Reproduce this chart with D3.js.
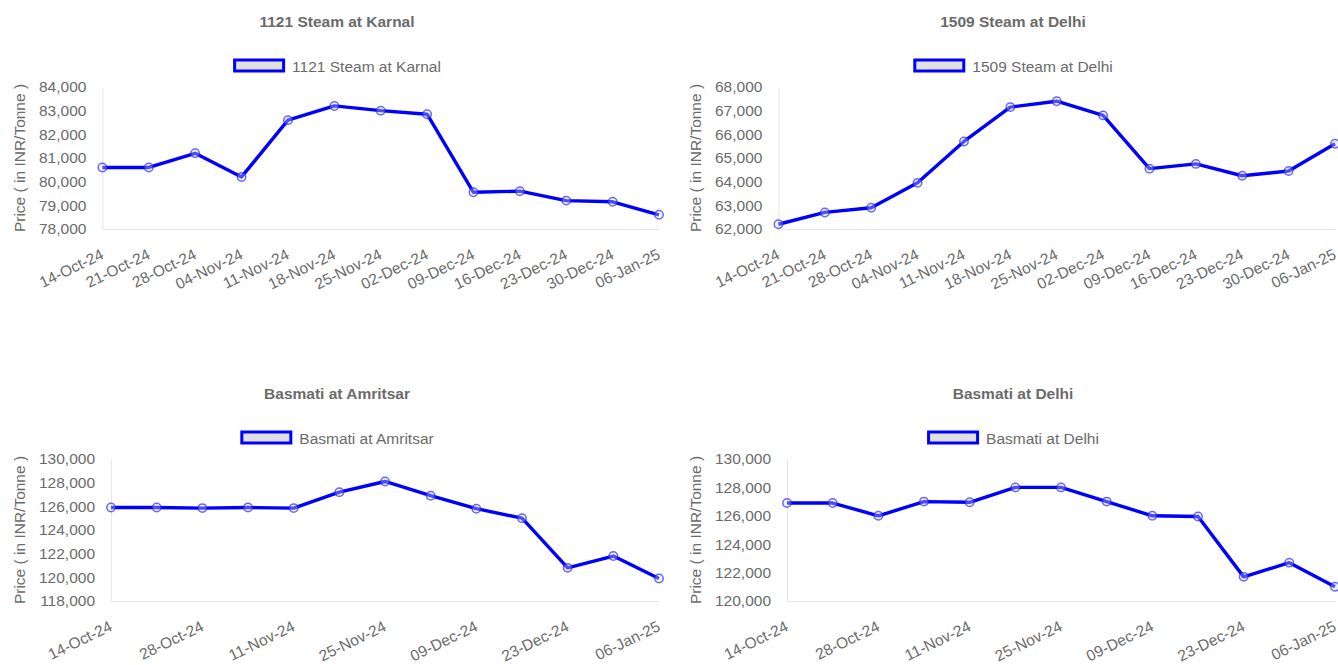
<!DOCTYPE html>
<html>
<head>
<meta charset="utf-8">
<script src="https://cdn.jsdelivr.net/npm/d3@7"></script>
<style>
  html, body { margin: 0; padding: 0; background: #fff; overflow: hidden; }
  svg { display: block; }
  text { font-family: "Liberation Sans", Arial, Helvetica, sans-serif; }
</style>
</head>
<body>
<svg id="chart" width="1338" height="665"></svg>
<script>
// ---- data ----
const categories = ["14-Oct-24","21-Oct-24","28-Oct-24","04-Nov-24","11-Nov-24","18-Nov-24","25-Nov-24","02-Dec-24","09-Dec-24","16-Dec-24","23-Dec-24","30-Dec-24","06-Jan-25"];
const sparseLabels = ["14-Oct-24","28-Oct-24","11-Nov-24","25-Nov-24","09-Dec-24","23-Dec-24","06-Jan-25"];

const steam1121Karnal = [80600, 80600, 81200, 80200, 82600, 83200, 83000, 82850, 79550, 79600, 79200, 79150, 78600];
const steam1509Delhi  = [62200, 62700, 62900, 63950, 65700, 67150, 67400, 66800, 64550, 64750, 64250, 64450, 65600];
const basmatiAmritsar = [125900, 125900, 125850, 125900, 125850, 127200, 128100, 126900, 125800, 125000, 120800, 121800, 119900];
const basmatiDelhi    = [126900, 126900, 126000, 127000, 126950, 128000, 128000, 127000, 126000, 125950, 121700, 122700, 121000];

const ticksKarnal   = [78000, 79000, 80000, 81000, 82000, 83000, 84000];
const ticks1509     = [62000, 63000, 64000, 65000, 66000, 67000, 68000];
const ticksAmritsar = [118000, 120000, 122000, 124000, 126000, 128000, 130000];
const ticksBDelhi   = [120000, 122000, 124000, 126000, 128000, 130000];

const titles = ["1121 Steam at Karnal", "1509 Steam at Delhi", "Basmati at Amritsar", "Basmati at Delhi"];
const yAxisTitle = "Price ( in INR/Tonne )";

// ---- layout ----
const svg = d3.select("#chart");
const colW = 676, rowH = 372;
const centerX = 337;
const plotTop = 87, plotBottom = 229, plotRight = 659;
const FS = 15.5;
const textColor = "#6b6b6b";
const axisColor = "#e6e6e6";

const charts = [
  { title: titles[0], values: steam1121Karnal, yTicks: ticksKarnal,   xLabels: categories,   col: 0, row: 0 },
  { title: titles[1], values: steam1509Delhi,  yTicks: ticks1509,     xLabels: categories,   col: 1, row: 0 },
  { title: titles[2], values: basmatiAmritsar, yTicks: ticksAmritsar, xLabels: sparseLabels, col: 0, row: 1 },
  { title: titles[3], values: basmatiDelhi,    yTicks: ticksBDelhi,   xLabels: sparseLabels, col: 1, row: 1 }
];

const fmt = d3.format(",");

charts.forEach(c => {
  const g = svg.append("g").attr("transform", `translate(${c.col * colW},${c.row * rowH})`);

  // title
  g.append("text")
    .attr("x", centerX).attr("y", 26.5)
    .attr("text-anchor", "middle")
    .attr("font-size", FS).attr("font-weight", "bold")
    .attr("fill", textColor)
    .text(c.title);

  // legend
  const lt = g.append("text")
    .attr("y", 71.5)
    .attr("font-size", FS)
    .attr("fill", textColor)
    .text(c.title);
  const tw = lt.node().getComputedTextLength();
  const boxW = 52, gap = 7;
  const lx = centerX - (boxW + gap + tw) / 2;
  g.append("rect")
    .attr("x", lx + 1.5).attr("y", 60)
    .attr("width", boxW - 3).attr("height", 11)
    .attr("fill", "#e0e0e0")
    .attr("stroke", "#0000ff").attr("stroke-width", 3);
  lt.attr("x", lx + boxW + gap);

  // measure y tick label widths
  const tmp = g.append("g");
  let maxW = 0;
  c.yTicks.forEach(t => {
    const n = tmp.append("text").attr("font-size", FS).text(fmt(t)).node();
    maxW = Math.max(maxW, n.getComputedTextLength());
  });
  tmp.remove();
  const plotLeft = 39 + maxW + 16;

  const y = d3.scaleLinear()
    .domain(d3.extent(c.yTicks))
    .range([plotBottom, plotTop]);
  const x = d3.scalePoint()
    .domain(categories)
    .range([plotLeft, plotRight]);

  // y axis
  const ya = g.append("g")
    .attr("transform", `translate(${plotLeft},0)`)
    .call(d3.axisLeft(y).tickValues(c.yTicks).tickSize(0).tickSizeOuter(0).tickPadding(16).tickFormat(fmt));
  ya.select(".domain").attr("stroke", axisColor);
  ya.selectAll("text").attr("font-size", FS).attr("fill", textColor)
    .attr("font-family", "'Liberation Sans', Arial, sans-serif");

  // x axis
  const xa = g.append("g")
    .attr("transform", `translate(0,${plotBottom})`)
    .call(d3.axisBottom(x).tickValues(c.xLabels).tickSize(0).tickSizeOuter(0));
  xa.select(".domain").attr("stroke", axisColor);
  xa.selectAll("text")
    .attr("font-size", FS).attr("fill", textColor)
    .attr("font-family", "'Liberation Sans', Arial, sans-serif")
    .attr("y", 0).attr("dy", "0.71em")
    .attr("text-anchor", "end")
    .attr("transform", "translate(-3,19) rotate(-26)");

  // y axis title
  g.append("text")
    .attr("transform", `translate(24.5,${(plotTop + plotBottom) / 2}) rotate(-90)`)
    .attr("text-anchor", "middle")
    .attr("font-size", FS)
    .attr("fill", textColor)
    .text(yAxisTitle);

  // line
  const line = d3.line()
    .x((d, i) => x(categories[i]))
    .y(d => y(d));
  g.append("path")
    .datum(c.values)
    .attr("d", line)
    .attr("fill", "none")
    .attr("stroke", "#0000ff")
    .attr("stroke-width", 3.4)
    .attr("stroke-linejoin", "round");

  // points
  g.selectAll("circle.pt")
    .data(c.values)
    .join("circle")
    .attr("class", "pt")
    .attr("cx", (d, i) => x(categories[i]))
    .attr("cy", d => y(d))
    .attr("r", 4.2)
    .attr("fill", "rgba(220,220,220,0.35)")
    .attr("stroke", "rgba(40,40,255,0.7)")
    .attr("stroke-width", 1.5);
});
</script>
</body>
</html>
